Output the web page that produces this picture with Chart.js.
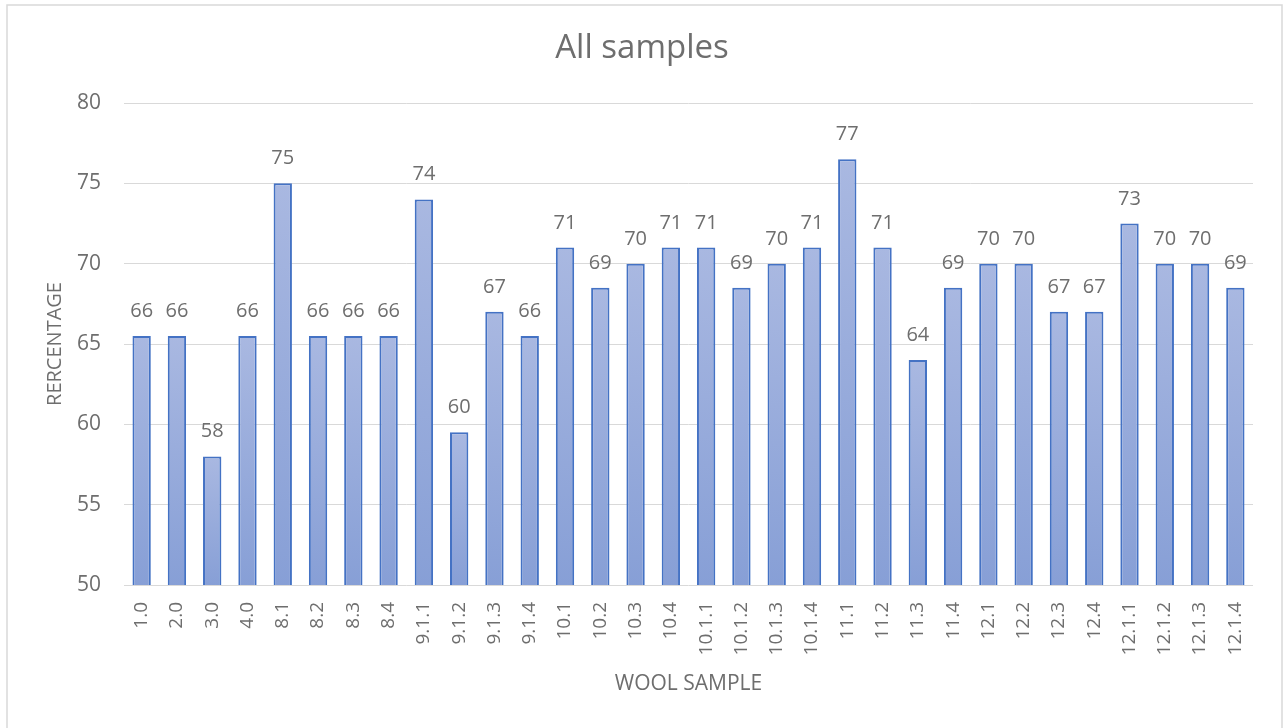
<!DOCTYPE html>
<html>
<head>
<meta charset="utf-8">
<style>
  html, body { margin: 0; padding: 0; background: #ffffff; }
  #wrap { width: 1284px; height: 728px; position: relative; }
</style>
<script src="https://cdn.jsdelivr.net/npm/chart.js@4.4.1/dist/chart.umd.min.js"></script>
</head>
<body>
<div id="wrap"><canvas id="c" width="1284" height="728"></canvas></div>
<script>
const categories = ["1.0","2.0","3.0","4.0","8.1","8.2","8.3","8.4","9.1.1","9.1.2","9.1.3","9.1.4","10.1","10.2","10.3","10.4","10.1.1","10.1.2","10.1.3","10.1.4","11.1","11.2","11.3","11.4","12.1","12.2","12.3","12.4","12.1.1","12.1.2","12.1.3","12.1.4"];
const percentages = [65.5,65.5,58,65.5,75,65.5,65.5,65.5,74,59.5,67,65.5,71,68.5,70,71,71,68.5,70,71,76.5,71,64,68.5,70,70,67,67,72.5,70,70,68.5];
const yTicks = [50,55,60,65,70,75,80];
const chartTitle = "All samples";
const xTitle = "WOOL SAMPLE";
const yTitle = "RERCENTAGE";

const FONT = "'Open Sans', 'Noto Sans', sans-serif";
const TEXT = "#6E6E6E";

const framePlugin = {
  id: 'frame',
  beforeDraw(chart) {
    const ctx = chart.ctx;
    ctx.save();
    ctx.fillStyle = '#ffffff';
    ctx.fillRect(0, 0, chart.width, chart.height);
    ctx.strokeStyle = '#D9D9D9';
    ctx.lineWidth = 1.5;
    ctx.strokeRect(7, 5, 1275, 760);
    ctx.restore();
  }
};

const labelPlugin = {
  id: 'barLabels',
  afterDatasetsDraw(chart) {
    const ctx = chart.ctx;
    const meta = chart.getDatasetMeta(0);
    const data = chart.data.datasets[0].data;
    ctx.save();
    ctx.font = "20px " + FONT;
    ctx.fillStyle = TEXT;
    ctx.textAlign = 'center';
    ctx.textBaseline = 'alphabetic';
    meta.data.forEach((el, i) => {
      ctx.fillText(String(Math.round(data[i])), el.x, el.y - 19);
    });
    ctx.restore();
  }
};

function barGradient(context) {
  const chart = context.chart;
  const area = chart.chartArea;
  if (!area || context.type !== 'data') return '#98ACDC';
  const yScale = chart.scales.y;
  const top = yScale.getPixelForValue(context.raw);
  const bottom = yScale.getPixelForValue(yScale.min);
  const g = chart.ctx.createLinearGradient(0, top, 0, bottom);
  g.addColorStop(0, '#A9B8E1');
  g.addColorStop(1, '#879FD6');
  return g;
}

new Chart(document.getElementById('c'), {
  type: 'bar',
  data: {
    labels: categories,
    datasets: [{
      data: percentages,
      backgroundColor: barGradient,
      borderColor: '#4472C4',
      borderWidth: 2,
      barPercentage: 0.52,
      categoryPercentage: 1.0
    }]
  },
  options: {
    responsive: false,
    animation: false,
    devicePixelRatio: 1,
    layout: { padding: { left: 31, right: 31, top: 0, bottom: 0 } },
    plugins: {
      legend: { display: false },
      tooltip: { enabled: false },
      title: {
        display: true,
        text: chartTitle,
        color: TEXT,
        font: { family: FONT, size: 33, weight: 'normal', lineHeight: 1.2 },
        padding: { top: 29.2, bottom: 34.2 }
      }
    },
    scales: {
      x: {
        grid: { display: false, drawTicks: false },
        border: { display: false },
        ticks: {
          color: TEXT,
          font: { family: FONT, size: 19 },
          minRotation: 90,
          maxRotation: 90,
          padding: 17,
          autoSkip: false
        },
        title: {
          display: true,
          text: xTitle,
          color: TEXT,
          font: { family: FONT, size: 21, lineHeight: 1.2 },
          padding: { top: 0, bottom: 31.4 }
        },
        afterFit(scale) { scale.height = 143; }
      },
      y: {
        min: 50,
        max: 80,
        afterBuildTicks(scale) { scale.ticks = yTicks.map(v => ({ value: v })); },
        grid: { color: '#D9D9D9', lineWidth: 1, drawTicks: false },
        border: { display: false },
        ticks: {
          color: TEXT,
          font: { family: FONT, size: 21 },
          padding: 23
        },
        title: {
          display: true,
          text: yTitle,
          color: TEXT,
          font: { family: FONT, size: 20, lineHeight: 1.2 },
          padding: { top: 12.5, bottom: 0 }
        },
        afterFit(scale) { scale.width = 93; }
      }
    }
  },
  plugins: [framePlugin, labelPlugin]
});
</script>
</body>
</html>
